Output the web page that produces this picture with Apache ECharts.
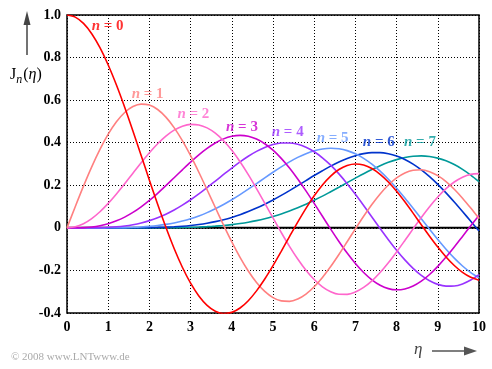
<!DOCTYPE html>
<html><head><meta charset="utf-8">
<script src="https://cdn.jsdelivr.net/npm/echarts@6/dist/echarts.min.js"></script>
<style>html,body{margin:0;padding:0;background:#fff}#c{width:492px;height:369px}</style>
</head><body><div id="c"></div>
<script>
const eta = [0,0.2,0.4,0.6,0.8,1,1.2,1.4,1.6,1.8,2,2.2,2.4,2.6,2.8,3,3.2,3.4,3.6,3.8,4,4.2,4.4,4.6,4.8,5,5.2,5.4,5.6,5.8,6,6.2,6.4,6.6,6.8,7,7.2,7.4,7.6,7.8,8,8.2,8.4,8.6,8.8,9,9.2,9.4,9.6,9.8,10];
const J0 = [1.0000,0.9900,0.9604,0.9120,0.8463,0.7652,0.6711,0.5669,0.4554,0.3400,0.2239,0.1104,0.0025,-0.0968,-0.1850,-0.2601,-0.3202,-0.3643,-0.3918,-0.4026,-0.3971,-0.3766,-0.3423,-0.2961,-0.2404,-0.1776,-0.1103,-0.0412,0.0270,0.0917,0.1506,0.2017,0.2433,0.2740,0.2931,0.3001,0.2951,0.2786,0.2516,0.2154,0.1717,0.1222,0.0692,0.0146,-0.0392,-0.0903,-0.1367,-0.1768,-0.2090,-0.2323,-0.2459];
const J1 = [0,0.0995,0.1960,0.2867,0.3688,0.4401,0.4983,0.5419,0.5699,0.5815,0.5767,0.5560,0.5202,0.4708,0.4097,0.3391,0.2613,0.1792,0.0955,0.0128,-0.0660,-0.1386,-0.2028,-0.2566,-0.2985,-0.3276,-0.3432,-0.3453,-0.3343,-0.3110,-0.2767,-0.2329,-0.1816,-0.1250,-0.0652,-0.0047,0.0543,0.1096,0.1592,0.2014,0.2346,0.2580,0.2708,0.2728,0.2641,0.2453,0.2174,0.1816,0.1395,0.0928,0.0435];
const J2 = [0,0.0050,0.0197,0.0437,0.0758,0.1149,0.1594,0.2072,0.2570,0.3061,0.3528,0.3951,0.4310,0.4590,0.4776,0.4861,0.4835,0.4697,0.4449,0.4093,0.3641,0.3106,0.2501,0.1845,0.1160,0.0466,-0.0217,-0.0867,-0.1464,-0.1989,-0.2429,-0.2768,-0.3001,-0.3119,-0.3123,-0.3014,-0.2800,-0.2490,-0.2097,-0.1638,-0.1130,-0.0593,-0.0047,0.0488,0.0992,0.1448,0.1840,0.2154,0.2381,0.2512,0.2546];
const J3 = [0,0.0002,0.0013,0.0044,0.0103,0.0196,0.0329,0.0505,0.0725,0.0988,0.1289,0.1623,0.1981,0.2354,0.2726,0.3091,0.3431,0.3734,0.3988,0.4180,0.4301,0.4344,0.4302,0.4170,0.3952,0.3648,0.3265,0.2811,0.2297,0.1738,0.1148,0.0543,-0.0060,-0.0640,-0.1185,-0.1676,-0.2099,-0.2442,-0.2696,-0.2854,-0.2911,-0.2869,-0.2730,-0.2501,-0.2190,-0.1809,-0.1374,-0.0899,-0.0403,0.0097,0.0584];
const J4 = [0,0.0000,0.0001,0.0003,0.0010,0.0025,0.0050,0.0091,0.0150,0.0232,0.0340,0.0477,0.0643,0.0840,0.1067,0.1320,0.1597,0.1892,0.2198,0.2507,0.2811,0.3100,0.3365,0.3594,0.3780,0.3912,0.3984,0.3990,0.3925,0.3787,0.3576,0.3293,0.2945,0.2537,0.2077,0.1578,0.1051,0.0510,-0.0031,-0.0557,-0.1054,-0.1506,-0.1903,-0.2233,-0.2485,-0.2655,-0.2736,-0.2728,-0.2633,-0.2453,-0.2196];
const J5 = [0,0,0,0.0000,0.0001,0.0002,0.0006,0.0013,0.0025,0.0043,0.0070,0.0109,0.0162,0.0232,0.0321,0.0430,0.0562,0.0716,0.0896,0.1098,0.1321,0.1561,0.1816,0.2080,0.2348,0.2611,0.2864,0.3100,0.3310,0.3485,0.3621,0.3706,0.3741,0.3715,0.3629,0.3479,0.3267,0.2993,0.2663,0.2283,0.1858,0.1400,0.0918,0.0424,-0.0069,-0.0550,-0.1005,-0.1423,-0.1791,-0.2099,-0.2341];
const J6 = [0,0,0,0,0,0.0000,0.0001,0.0002,0.0003,0.0007,0.0012,0.0021,0.0034,0.0053,0.0079,0.0114,0.0160,0.0219,0.0293,0.0383,0.0491,0.0617,0.0763,0.0928,0.1112,0.1310,0.1524,0.1751,0.1986,0.2222,0.2458,0.2684,0.2900,0.3092,0.3260,0.3392,0.3487,0.3535,0.3535,0.3484,0.3376,0.3213,0.2996,0.2726,0.2407,0.2043,0.1644,0.1214,0.0767,0.0311,-0.0145];
const J7 = [0,0,0,0,0,0,0,0,0.0000,0.0001,0.0002,0.0003,0.0006,0.0010,0.0016,0.0025,0.0038,0.0056,0.0080,0.0112,0.0152,0.0202,0.0264,0.0340,0.0429,0.0534,0.0653,0.0791,0.0946,0.1112,0.1296,0.1489,0.1697,0.1907,0.2124,0.2336,0.2545,0.2739,0.2919,0.3077,0.3206,0.3302,0.3362,0.3380,0.3351,0.3275,0.3149,0.2973,0.2750,0.2480,0.2167];
const seriesData = [J0,J1,J2,J3,J4,J5,J6,J7];
const colors = ['#ff0000','#ff8080','#ff66cc','#cc00cc','#9933ff','#6699ff','#0033cc','#009999'];
const labelText = ['0','1','2','3','4','5','6','7'];
const labelX = [0.60,1.57,2.68,3.86,4.97,6.06,7.18,8.18];
const labelY = [0.950,0.629,0.535,0.474,0.448,0.420,0.401,0.401];

const chart = echarts.init(document.getElementById('c'), null, {renderer:'canvas'});
const serif = '"Liberation Serif","DejaVu Serif",serif';
const series = [];
series.push({
  type:'line', data:[[0,0],[10,0]], showSymbol:false, silent:true,
  lineStyle:{color:'#000', width:2}, z:2, animation:false
});
seriesData.forEach((d,i)=>series.push({
  type:'line', data: eta.map((x,k)=>[x,d[k]]), smooth:0.3, showSymbol:false,
  lineStyle:{color:colors[i], width:1.6}, z: 3 + (7-i)*0.1, animation:false
}));
series.push({
  type:'scatter', symbolSize:0, animation:false, z:10,
  data: labelText.map((t,i)=>({value:[labelX[i],labelY[i]],
    label:{show:true, position:'right', distance:0, color:colors[i],
      formatter:'{n|n} = '+t,
      fontFamily:serif, fontWeight:'bold', fontSize:15,
      rich:{n:{fontStyle:'italic', fontWeight:'bold', fontFamily:serif, fontSize:15, color:colors[i]}}}}))
});
chart.setOption({
  backgroundColor:'#fff', animation:false,
  grid:{left:67, right:13, top:15, bottom:56, show:true, borderColor:'#000', borderWidth:1.5, backgroundColor:'transparent'},
  xAxis:{type:'value', min:0, max:10, interval:1,
    axisLine:{show:false, onZero:false}, axisTick:{show:false},
    splitLine:{show:true, lineStyle:{color:'#000', type:[1,2], width:1}},
    axisLabel:{color:'#000', fontFamily:serif, fontWeight:'bold', fontSize:14, margin:7}},
  yAxis:{type:'value', min:-0.4, max:1.0, interval:0.2,
    axisLine:{show:false}, axisTick:{show:false},
    splitLine:{show:true, lineStyle:{color:'#000', type:[1,2], width:1}},
    axisLabel:{color:'#000', fontFamily:serif, fontWeight:'bold', fontSize:14, margin:6,
      formatter:v=>{ if (Math.abs(v)<1e-9) return '0'; return v.toFixed(1);} }},
  graphic:[
    {type:'line', shape:{x1:27,y1:55,x2:27,y2:22}, style:{stroke:'#444', lineWidth:1.5}},
    {type:'polygon', shape:{points:[[27,11],[23.5,25],[30.5,25]]}, style:{fill:'#444'}},
    {type:'text', left:10, top:67, style:{text:'{a|J}{b|n}{a|(}{c|η}{a|)}', rich:{
      a:{fontFamily:serif, fontSize:16, color:'#555'},
      b:{fontFamily:serif, fontSize:12, fontStyle:'italic', color:'#555', padding:[9,1,0,0]},
      c:{fontFamily:serif, fontSize:16, fontStyle:'italic', color:'#555'}}}},
    {type:'text', left:414, top:341, style:{text:'η', font:'italic 17px '+serif, fill:'#444'}},
    {type:'line', shape:{x1:432,y1:351,x2:466,y2:351}, style:{stroke:'#555', lineWidth:1.5}},
    {type:'polygon', shape:{points:[[477,351],[464,346.5],[464,355.5]]}, style:{fill:'#555'}},
    {type:'text', left:11, top:352, style:{text:'© 2008 www.LNTwww.de', font:'11px '+serif, fill:'#aaa'}}
  ],
  series: series
});
</script></body></html>
